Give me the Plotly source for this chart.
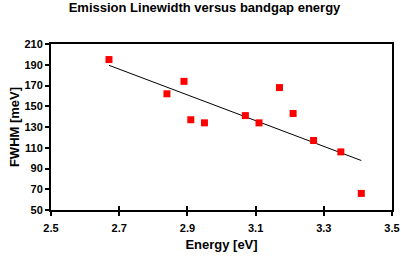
import numpy as np
import plotly.graph_objects as go

energy = [2.67, 2.84, 2.89, 2.91, 2.95, 3.07, 3.11, 3.17, 3.21, 3.27, 3.35, 3.41]
fwhm = [195, 162, 174, 137, 134, 141, 134, 168, 143, 117, 106, 66]
x_ticks = [2.5, 2.7, 2.9, 3.1, 3.3, 3.5]
y_ticks = [50, 70, 90, 110, 130, 150, 170, 190, 210]

slope, intercept = np.polyfit(energy, fwhm, 1)
fit_x = [min(energy), max(energy)]
fit_y = [slope * v + intercept for v in fit_x]

font = "Liberation Sans, Arial, sans-serif"

fig = go.Figure()
fig.add_trace(go.Scatter(x=fit_x, y=fit_y, mode="lines",
                         line=dict(color="black", width=1), showlegend=False))
fig.add_trace(go.Scatter(x=energy, y=fwhm, mode="markers",
                         marker=dict(symbol="square", size=7, color="#ff0000"),
                         showlegend=False))

fig.update_layout(
    width=401, height=260,
    margin=dict(l=51, r=9, t=44, b=50),
    paper_bgcolor="white", plot_bgcolor="white",
    font=dict(family=font, size=11, color="black"),
    title=dict(text="<b>Emission Linewidth versus bandgap energy</b>",
               x=0.51, xanchor="center", y=0.972, yanchor="middle",
               font=dict(size=13, family=font, color="black")),
    xaxis=dict(range=[2.5, 3.5], tickvals=x_ticks,
               ticktext=[f"<b>{v}</b>" for v in x_ticks],
               ticks="outside", ticklen=4, tickwidth=2, tickcolor="black",
               showline=True, linewidth=2, linecolor="black", mirror=True,
               showgrid=False, zeroline=False, automargin=False,
               ticklabeloverflow="allow", ticklabelstandoff=3,
               title=dict(text="<b>Energy [eV]</b>", standoff=7,
                          font=dict(size=13))),
    xaxis2=dict(range=[2.5, 3.5], tickvals=x_ticks, overlaying="x",
                anchor="y", side="bottom", ticks="inside", ticklen=4,
                tickwidth=2, tickcolor="black", showticklabels=False,
                showgrid=False, zeroline=False, showline=False),
    yaxis=dict(range=[50, 210], tickvals=y_ticks,
               ticktext=[f"<b>{v}</b>" for v in y_ticks],
               ticks="outside", ticklen=4, tickwidth=2, tickcolor="black",
               showline=True, linewidth=2, linecolor="black", mirror=True,
               showgrid=False, zeroline=False, automargin=False,
               title=dict(text="<b>FWHM [meV]</b>", standoff=2,
                          font=dict(size=13))),
)
fig.add_trace(go.Scatter(x=[2.5], y=[50], xaxis="x2", mode="markers",
                         marker=dict(opacity=0), showlegend=False,
                         hoverinfo="skip"))

fig.write_html("out.html", config={"displayModeBar": False},
               post_script="document.body.style.margin='0';document.body.style.overflow='hidden';")
